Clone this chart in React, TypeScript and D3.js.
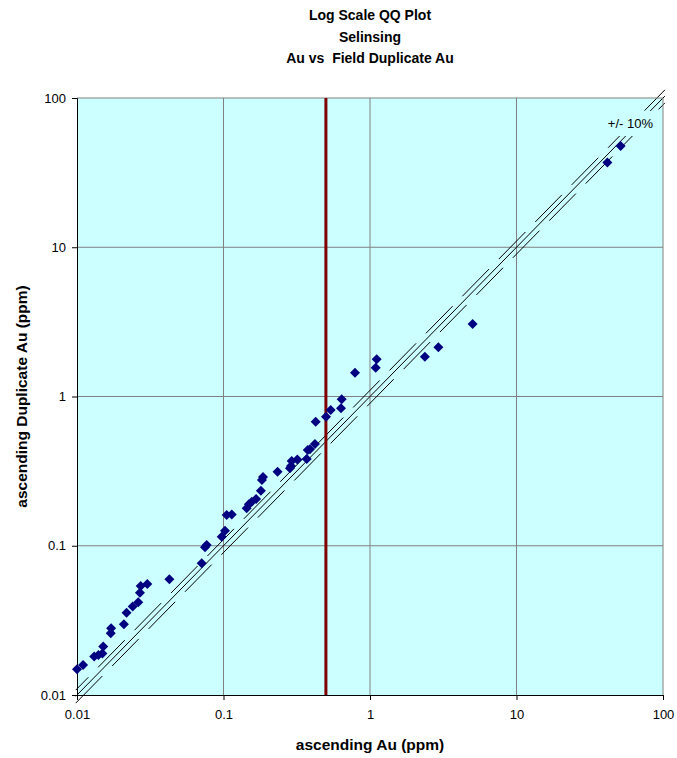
import React, { useEffect, useRef } from 'react'
import * as d3 from 'd3'

// ascending Au (ppm) and ascending field duplicate Au (ppm), paired by rank
const auValues = [0.0100, 0.0110, 0.0131, 0.0140, 0.0149, 0.0151, 0.0170, 0.0171, 0.0209, 0.0218,
    0.0240, 0.0262, 0.0269, 0.0272, 0.0302, 0.0427, 0.0710, 0.0748, 0.0768, 0.0972,
    0.1024, 0.1051, 0.1138, 0.144, 0.149, 0.156, 0.167, 0.180, 0.183, 0.186,
    0.234, 0.284, 0.289, 0.292, 0.319, 0.370, 0.376, 0.389, 0.421, 0.426,
    0.501, 0.539, 0.634, 0.641, 0.79, 1.094, 1.111, 2.37, 2.93, 5.02,
    41.7, 51.4]
const dupValues = [0.0149, 0.0159, 0.0181, 0.0185, 0.0190, 0.0211, 0.0259, 0.0280, 0.0298, 0.0356,
    0.0391, 0.0418, 0.0485, 0.0537, 0.0554, 0.0596, 0.0763, 0.0976, 0.1012, 0.115,
    0.126, 0.161, 0.162, 0.178, 0.190, 0.197, 0.206, 0.234, 0.276, 0.289,
    0.313, 0.330, 0.342, 0.370, 0.379, 0.381, 0.438, 0.443, 0.481, 0.678,
    0.732, 0.812, 0.834, 0.958, 1.444, 1.56, 1.775, 1.848, 2.136, 3.06,
    36.9, 47.7]

const tickValues = [0.01, 0.1, 1, 10, 100]
const tickLabels = ['0.01', '0.1', '1', '10', '100']
const cutoff = 0.5
const lineFactors = [1.1, 1, 0.9]
const lineRange = [0.0098, 103]
const titleLines = ['Log Scale QQ Plot', 'Selinsing', 'Au vs  Field Duplicate Au']

const font = '"Liberation Sans", Arial, sans-serif'

const App: React.FC = () => {
    const chartRef = useRef<SVGSVGElement | null>(null)

    useEffect(() => {
        if (!chartRef.current) return
        const width = 677
        const height = 758
        const margin = { top: 98, right: 14, bottom: 63, left: 77 }

        const svg = d3.select(chartRef.current)
        svg.selectAll('*').remove()
        svg.attr('width', width).attr('height', height)

        const x = d3.scaleLog().domain([0.01, 100]).range([margin.left, width - margin.right])
        const y = d3.scaleLog().domain([0.01, 100]).range([height - margin.bottom, margin.top])
        const [x0, x1] = x.range()
        const [y0, y1] = y.range()

        // plot area
        svg.append('rect')
            .attr('x', x0).attr('y', y1)
            .attr('width', x1 - x0).attr('height', y0 - y1)
            .attr('fill', '#CCFFFF')

        // gridlines
        svg.append('g')
            .selectAll('line')
            .data(tickValues.slice(1, -1))
            .join('line')
            .attr('x1', d => x(d)).attr('x2', d => x(d))
            .attr('y1', y1).attr('y2', y0)
            .attr('stroke', '#808080')
        svg.append('g')
            .selectAll('line')
            .data(tickValues.slice(1, -1))
            .join('line')
            .attr('x1', x0).attr('x2', x1)
            .attr('y1', d => y(d)).attr('y2', d => y(d))
            .attr('stroke', '#808080')

        // 1:1 and +/- 10% lines
        const line = d3.line<number[]>().x(d => x(d[0])).y(d => y(d[1]))
        svg.append('g')
            .selectAll('path')
            .data(lineFactors)
            .join('path')
            .attr('d', k => line(lineRange.map(v => [v, v * k])))
            .attr('fill', 'none')
            .attr('stroke', '#000')
            .attr('stroke-width', 1)
            .attr('stroke-dasharray', k => k === 1 ? null : '38,14')
            .attr('stroke-dashoffset', k => k > 1 ? 20 : 0)

        // label box covers the lines like the Excel text box
        svg.append('rect')
            .attr('x', 598).attr('y', 111)
            .attr('width', x1 - 598).attr('height', 25)
            .attr('fill', '#CCFFFF')
        svg.append('text')
            .attr('x', 653).attr('y', 128)
            .attr('text-anchor', 'end')
            .attr('font-size', '13px')
            .attr('font-family', font)
            .text('+/- 10%')

        // plot border (top / right)
        svg.append('path')
            .attr('d', `M${x0},${y1}H${x1}V${y0}`)
            .attr('fill', 'none')
            .attr('stroke', '#808080')

        // axes
        svg.append('g')
            .attr('transform', `translate(0,${y0})`)
            .call(d3.axisBottom(x).tickValues(tickValues).tickFormat((_, i) => tickLabels[i]).tickSize(5).tickPadding(10))
            .call(g => g.select('.domain').attr('stroke', '#000'))
            .call(g => g.selectAll('.tick text').attr('fill', '#000').attr('font-size', '13px').attr('font-family', font))
        svg.append('g')
            .attr('transform', `translate(${x0},0)`)
            .call(d3.axisLeft(y).tickValues(tickValues).tickFormat((_, i) => tickLabels[i]).tickSize(5).tickPadding(6))
            .call(g => g.select('.domain').attr('stroke', '#000'))
            .call(g => g.selectAll('.tick text').attr('fill', '#000').attr('font-size', '13px').attr('font-family', font))

        // cutoff line
        svg.append('line')
            .attr('x1', x(cutoff)).attr('x2', x(cutoff))
            .attr('y1', y1).attr('y2', y0)
            .attr('stroke', '#800000')
            .attr('stroke-width', 3)

        // points
        svg.append('g')
            .selectAll('path')
            .data(auValues.map((v, i) => [v, dupValues[i]]))
            .join('path')
            .attr('transform', d => `translate(${x(d[0])},${y(d[1])}) rotate(45)`)
            .attr('d', d3.symbol(d3.symbolSquare, 50)())
            .attr('fill', '#000080')

        // titles
        svg.append('g')
            .selectAll('text')
            .data(titleLines)
            .join('text')
            .attr('x', (x0 + x1) / 2)
            .attr('y', (_, i) => 20 + i * 21.5)
            .attr('text-anchor', 'middle')
            .attr('font-size', '14px')
            .attr('font-weight', 'bold')
            .attr('font-family', font)
            .style('white-space', 'pre')
            .text(d => d)

        svg.append('text')
            .attr('x', (x0 + x1) / 2)
            .attr('y', 750)
            .attr('text-anchor', 'middle')
            .attr('font-size', '15.5px')
            .attr('font-weight', 'bold')
            .attr('font-family', font)
            .text('ascending Au (ppm)')

        svg.append('text')
            .attr('transform', 'rotate(-90)')
            .attr('x', -(y0 + y1) / 2)
            .attr('y', 27)
            .attr('text-anchor', 'middle')
            .attr('font-size', '15.5px')
            .attr('font-weight', 'bold')
            .attr('font-family', font)
            .text('ascending Duplicate Au (ppm)')
    }, [])

    return <svg ref={chartRef} style={{ position: 'absolute', left: 0, top: 0, background: '#fff' }}></svg>
}

export default App
